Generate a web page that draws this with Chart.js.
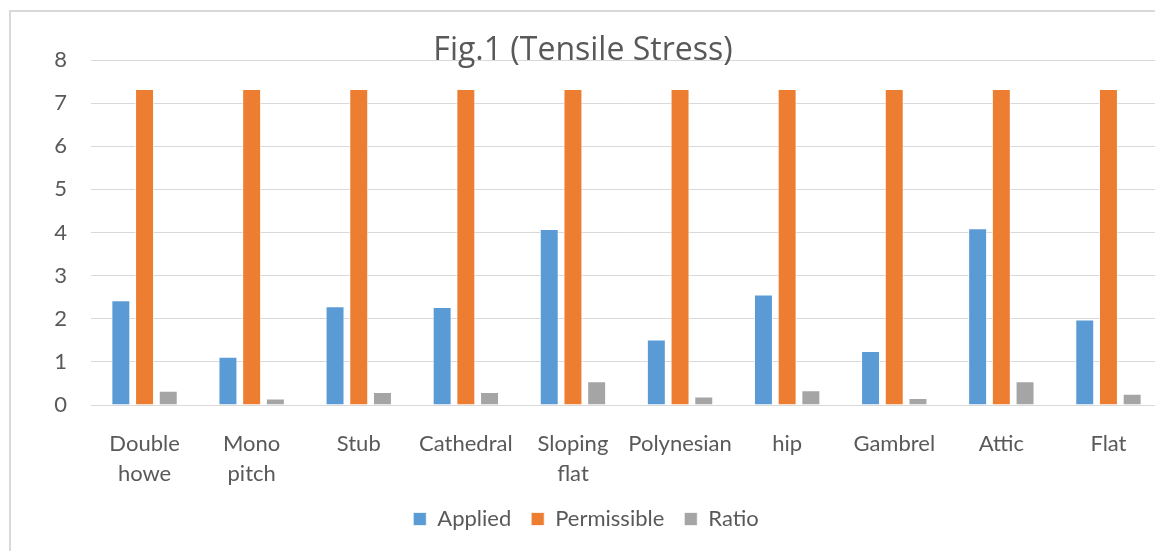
<!DOCTYPE html>
<html>
<head>
<meta charset="utf-8">
<script src="https://cdn.jsdelivr.net/npm/chart.js@4/dist/chart.umd.min.js"></script>
<style>
  html, body { margin: 0; padding: 0; background: #fff; overflow: hidden; }
  #wrap { position: relative; width: 1175px; height: 551px; }
  #frame { position: absolute; left: 9px; top: 10px; width: 1300px; height: 700px;
           border-left: 2px solid #d9d9d9; border-top: 2px solid #d9d9d9; box-sizing: border-box; }
  canvas { position: absolute; left: 0; top: 0; }
</style>
</head>
<body>
<div id="wrap">
  <div id="frame"></div>
  <canvas id="myChart" width="1175" height="551"></canvas>
</div>
<script>
const categories = [['Double', 'howe'], ['Mono', 'pitch'], 'Stub', 'Cathedral', ['Sloping', 'flat'],
  'Polynesian', 'hip', 'Gambrel', 'Attic', 'Flat'];
const applied = [2.43, 1.12, 2.29, 2.27, 4.08, 1.52, 2.56, 1.25, 4.10, 1.98];
const permissible = [7.33, 7.33, 7.33, 7.33, 7.33, 7.33, 7.33, 7.33, 7.33, 7.33];
const ratio = [0.33, 0.15, 0.30, 0.30, 0.55, 0.20, 0.34, 0.16, 0.55, 0.26];
const yTicks = [0, 1, 2, 3, 4, 5, 6, 7, 8];

const FONT = 'Lato';
const TEXT = '#595959';

// title sits on top of the 8 gridline like in the original
const titlePlugin = {
  id: 'overTitle',
  afterDraw(chart) {
    const ctx = chart.ctx;
    ctx.save();
    ctx.font = '32px "Open Sans"';
    ctx.fillStyle = TEXT;
    ctx.textAlign = 'center';
    ctx.textBaseline = 'alphabetic';
    ctx.fillText('Fig.1 (Tensile Stress)', 583, 60);
    ctx.restore();
  }
};

const data = {
  labels: categories,
  datasets: [
    { label: 'Applied', data: applied, backgroundColor: '#5B9BD5', borderColor: 'rgba(255,255,255,0.7)', borderWidth: 1 },
    { label: 'Permissible', data: permissible, backgroundColor: '#ED7D31', borderColor: 'rgba(255,255,255,0.7)', borderWidth: 1 },
    { label: 'Ratio', data: ratio, backgroundColor: '#A5A5A5', borderColor: 'rgba(255,255,255,0.7)', borderWidth: 1 }
  ]
};

const config = {
  type: 'bar',
  data: data,
  options: {
    responsive: false,
    animation: false,
    categoryPercentage: 0.664,
    barPercentage: 0.8,
    layout: { padding: { left: 10, top: 60, right: 13, bottom: 11 } },
    plugins: {
      title: { display: false },
      tooltip: { enabled: false },
      legend: {
        position: 'bottom',
        labels: {
          font: { family: FONT, size: 22 },
          color: TEXT,
          boxWidth: 13,
          boxHeight: 13,
          padding: 20
        }
      }
    },
    scales: {
      x: {
        grid: { display: false, drawTicks: false },
        border: { display: false },
        ticks: { font: { family: FONT, size: 22, lineHeight: 1.36 }, color: TEXT, padding: 24, maxRotation: 0, autoSkip: false },
        afterFit(scale) { scale.height = 83; }
      },
      y: {
        min: 0,
        max: 8,
        afterBuildTicks(scale) { scale.ticks = yTicks.map(v => ({ value: v })); },
        grid: { color: '#d9d9d9', lineWidth: 1, drawTicks: false },
        border: { display: false },
        ticks: { font: { family: FONT, size: 22 }, color: TEXT, padding: 24 },
        afterFit(scale) { scale.width = 81; }
      }
    }
  },
  plugins: [titlePlugin]
};

const myChart = new Chart(document.getElementById('myChart'), config);
</script>
</body>
</html>
